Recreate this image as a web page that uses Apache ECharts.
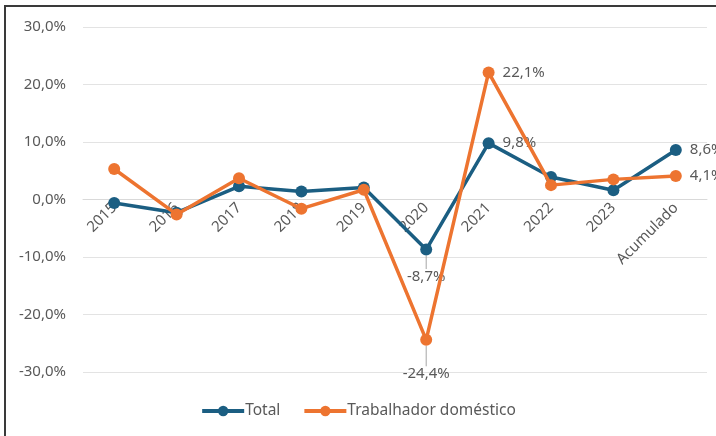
<!DOCTYPE html>
<html>
<head>
<meta charset="utf-8">
<script src="https://cdn.jsdelivr.net/npm/echarts@6/dist/echarts.min.js"></script>
<style>
  html, body { margin: 0; padding: 0; background: #fff; }
  #frame {
    position: absolute; left: 4px; top: 5px; width: 740px; height: 460px;
    border-left: 2px solid #3a3a3a; border-top: 2px solid #3a3a3a;
  }
  #chart { position: absolute; left: 0; top: 0; width: 716px; height: 436px; }
</style>
</head>
<body>
<div id="frame"></div>
<div id="chart"></div>
<script>
// categorias e séries (%)
const categories = ["2015", "2016", "2017", "2018", "2019", "2020", "2021", "2022", "2023", "Acumulado"];
const total = [-0.6, -2.3, 2.3, 1.4, 2.1, -8.7, 9.8, 3.9, 1.6, 8.6];
const domestico = [5.3, -2.6, 3.7, -1.6, 1.7, -24.4, 22.1, 2.5, 3.5, 4.1];
const labeled = [5, 6, 9]; // pontos com rótulo

const fmt = v => v.toFixed(1).replace(".", ",") + "%";
const textColor = "#595959";
const font = "Noto Sans";

function makeSeries(name, data, color) {
  return {
    name: name,
    type: "line",
    data: data.map((v, i) => ({
      value: v,
      label: { show: labeled.includes(i) },
      labelLine: { show: i === 5 }
    })),
    symbol: "circle",
    symbolSize: 12,
    lineStyle: { color: color, width: 3.5 },
    itemStyle: { color: color },
    label: {
      position: "right",
      distance: 8,
      color: textColor,
      fontFamily: font,
      fontSize: 15,
      formatter: p => fmt(p.value)
    },
    labelLine: { lineStyle: { color: "#a6a6a6", width: 1 } },
    labelLayout: p => {
      if (p.dataIndex !== 5) return {};
      const dy = name === "Total" ? 27 : 34;
      return { x: p.rect.x + p.rect.width / 2, y: p.rect.y + p.rect.height / 2 + dy, align: "center", verticalAlign: "middle" };
    },
    z: name === "Total" ? 2 : 3
  };
}

const chart = echarts.init(document.getElementById("chart"), null, { renderer: "canvas" });
chart.setOption({
  animation: false,
  textStyle: { fontFamily: font },
  grid: { left: 83, right: 9, top: 27, bottom: 64 },
  legend: {
    bottom: 12,
    left: "center",
    itemWidth: 42,
    itemHeight: 13,
    itemGap: 22,
    lineStyle: { width: 4 },
    textStyle: { color: textColor, fontSize: 15.5, fontFamily: font, padding: [0, 0, 0, -4] },
    data: ["Total", "Trabalhador doméstico"]
  },
  xAxis: {
    type: "category",
    data: categories,
    position: "bottom",
    offset: -172.5,
    axisLine: { onZero: false, lineStyle: { color: "#d9d9d9", width: 1 } },
    axisTick: { show: false },
    axisLabel: { rotate: 45, color: textColor, fontSize: 15, fontFamily: font, margin: 6, interval: 0 }
  },
  yAxis: {
    type: "value",
    min: -30,
    max: 30,
    interval: 10,
    axisLine: { show: false },
    axisTick: { show: false },
    axisLabel: { color: textColor, fontSize: 15, fontFamily: font, margin: 17, formatter: fmt },
    splitLine: { lineStyle: { color: "#e3e3e3", width: 1 } }
  },
  series: [
    makeSeries("Total", total, "#1b5e82"),
    makeSeries("Trabalhador doméstico", domestico, "#ed7430")
  ]
});
</script>
</body>
</html>
